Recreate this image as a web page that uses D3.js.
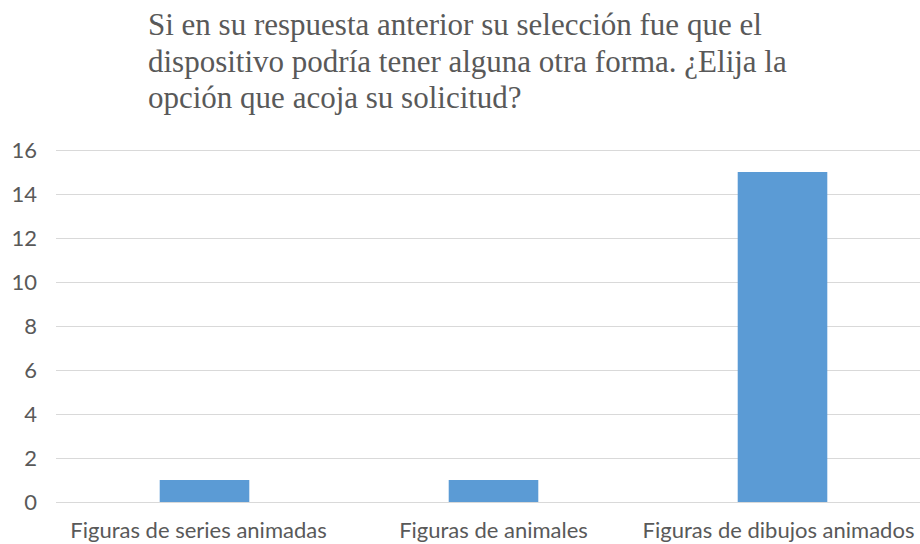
<!DOCTYPE html>
<html>
<head>
<meta charset="utf-8">
<script src="https://cdn.jsdelivr.net/npm/d3@7"></script>
<style>
  html, body { margin: 0; padding: 0; background: #fff; }
  svg { display: block; }
</style>
</head>
<body>
<svg id="chart" width="920" height="544"></svg>
<script>
// Survey answers: preferred alternative shape for the device
const titleLines = [
  "Si en su respuesta anterior su selección fue que el",
  "dispositivo podría tener alguna otra forma. ¿Elija la",
  "opción que acoja su solicitud?"
];
const categories = ["Figuras de series animadas", "Figuras de animales", "Figuras de dibujos animados"];
const values = [1, 1, 15];
const yTicks = [0, 2, 4, 6, 8, 10, 12, 14, 16];

const svg = d3.select("#chart");
const W = 920, H = 544;
const plot = { left: 60, right: 927, top: 150, bottom: 502 };

const x = d3.scaleBand().domain(categories).range([plot.left, plot.right]).paddingInner(0.69).paddingOuter(0.345);
const y = d3.scaleLinear().domain([0, 16]).range([plot.bottom, plot.top]);

const sans = "Lato, Carlito, 'Open Sans', sans-serif";

// Title
const title = svg.append("text")
  .attr("font-family", "'Liberation Serif', 'Times New Roman', serif")
  .attr("font-size", 31)
  .attr("fill", "#595959");
titleLines.forEach((t, i) => {
  title.append("tspan").attr("x", 148).attr("y", 35 + i * 36.5).text(t);
});

// Horizontal gridlines
svg.append("g")
  .selectAll("line")
  .data(yTicks)
  .join("line")
  .attr("x1", 56).attr("x2", W)
  .attr("y1", d => y(d) + 0.5).attr("y2", d => y(d) + 0.5)
  .attr("stroke", "#d9d9d9").attr("stroke-width", 1);

// Y axis labels
const yAxis = d3.axisLeft(y).tickValues(yTicks).tickSize(0).tickPadding(0);
const gy = svg.append("g").attr("transform", "translate(37,0)").call(yAxis);
gy.select(".domain").remove();
gy.selectAll("text")
  .attr("font-family", sans)
  .attr("font-size", 22)
  .attr("fill", "#595959");

// Bars
svg.append("g")
  .selectAll("rect")
  .data(values)
  .join("rect")
  .attr("x", (d, i) => x(categories[i]))
  .attr("width", x.bandwidth())
  .attr("y", d => y(d))
  .attr("height", d => y(0) - y(d))
  .attr("fill", "#5b9bd5");

// X axis labels
const xAxis = d3.axisBottom(x).tickSize(0).tickPadding(0);
const gx = svg.append("g").attr("transform", `translate(0,${plot.bottom + 20})`).call(xAxis);
gx.select(".domain").remove();
gx.selectAll("text")
  .attr("font-family", sans)
  .attr("font-size", 22)
  .attr("fill", "#595959");
gx.selectAll(".tick").filter((d, i) => i === 0)
  .attr("transform", `translate(${x.bandwidth() / 2 + x(categories[0]) - 6},0)`);
gx.selectAll(".tick").filter((d, i) => i === 2)
  .attr("transform", `translate(${x.bandwidth() / 2 + x(categories[2]) - 4},0)`);
</script>
</body>
</html>
